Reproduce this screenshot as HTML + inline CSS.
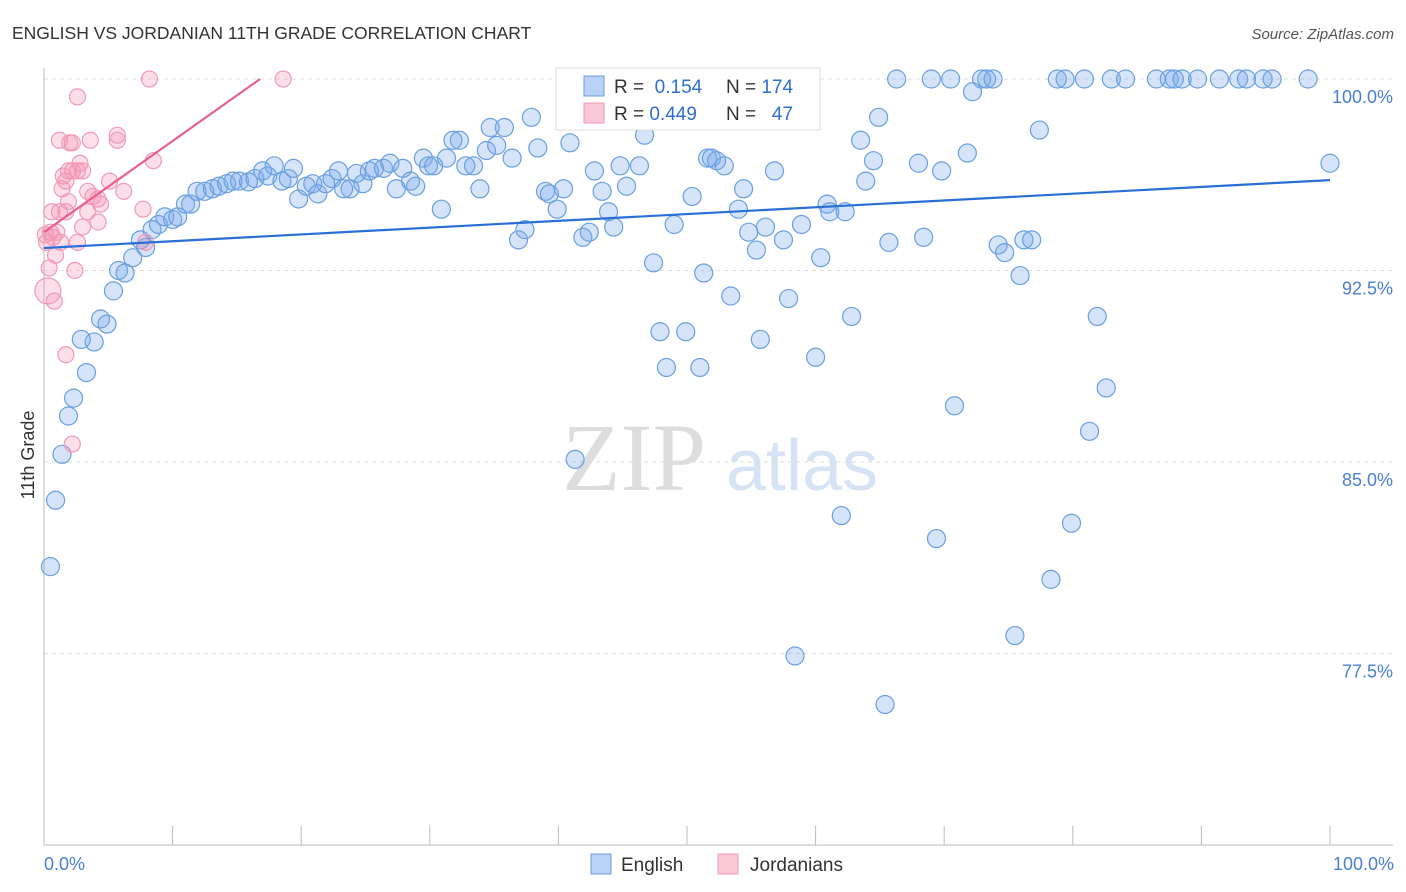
<!DOCTYPE html>
<html><head><meta charset="utf-8">
<style>
body{margin:0;background:#fff;font-family:"Liberation Sans",sans-serif;}
svg{display:block}
</style></head>
<body>
<svg id="chart" width="1406" height="892">
<text x="12" y="39" font-size="17.5" fill="#333">ENGLISH VS JORDANIAN 11TH GRADE CORRELATION CHART</text>
<text x="1394" y="39" font-size="15" fill="#555" font-style="italic" text-anchor="end">Source: ZipAtlas.com</text>
<g>
<text x="634" y="490" font-size="96" fill="#ddd" font-family="Liberation Serif" text-anchor="middle">ZIP</text>
<text x="802" y="490" font-size="72" fill="#d6e3f5" text-anchor="middle">atlas</text>
</g>
<g id="grid"></g>
<g id="axes"></g>
<g id="points"></g>
<g id="lines"></g>
<text transform="translate(34,455) rotate(-90)" font-size="18" fill="#333" text-anchor="middle">11th Grade</text>
<text x="44" y="870" font-size="18" fill="#4a7fd4">0.0%</text>
<text x="1394" y="870" font-size="18" fill="#4a7fd4" text-anchor="end">100.0%</text>
<g>
<rect x="556" y="68" width="264" height="62" fill="#fff" stroke="#ddd"/>
<rect x="584" y="76" width="20" height="20" fill="#b9d2f5" stroke="#6a9fe0"/>
<rect x="584" y="103" width="20" height="20" fill="#fbc8d7" stroke="#f09ab5"/>
<text x="614" y="93" font-size="19" fill="#333">R = <tspan fill="#2f6fd0">&#160;0.154</tspan><tspan x="726">N = </tspan><tspan fill="#2f6fd0">174</tspan></text>
<text x="614" y="120" font-size="19" fill="#333">R = <tspan fill="#2f6fd0">0.449</tspan><tspan x="726">N = </tspan><tspan fill="#2f6fd0">&#160;&#160;47</tspan></text>
</g>
<g>
<rect x="591" y="854" width="20" height="20" fill="#b9d2f5" stroke="#6a9fe0"/>
<text x="621" y="871" font-size="19" fill="#333">English</text>
<rect x="718" y="854" width="20" height="20" fill="#fbc8d7" stroke="#f09ab5"/>
<text x="750" y="871" font-size="19" fill="#333">Jordanians</text>
</g>
</svg>
<script>
const yTicks=[100,92.5,85,77.5];
const yTickLabels=["100.0%","92.5%","85.0%","77.5%"];
const xTicks=[0,10,20,30,40,50,60,70,80,90,100];
const blueX=[0.5,0.9,1.4,1.9,2.3,3.3,3.9,2.9,4.4,4.9,5.4,5.8,6.3,6.9,7.5,7.9,8.4,8.9,9.4,10.0,10.4,11.0,11.4,11.9,12.5,13.1,13.6,14.2,14.7,15.2,15.9,16.4,17.0,17.4,17.9,18.5,19.0,19.4,19.8,20.4,20.9,21.3,21.9,22.4,22.9,23.3,23.8,24.3,24.8,25.3,25.7,26.4,26.9,27.4,27.9,28.5,28.9,29.5,29.9,30.3,30.9,31.3,31.8,32.3,32.8,33.4,33.9,34.4,34.7,35.2,35.8,36.4,36.9,37.4,37.9,38.4,39.0,39.3,39.9,40.4,40.9,41.3,41.9,42.4,42.8,43.4,43.9,44.3,44.8,45.3,46.3,46.7,47.4,47.9,48.4,49.0,49.9,51.0,50.4,51.3,51.6,51.9,52.3,52.9,53.4,54.0,54.4,54.8,55.4,55.7,56.1,56.8,57.5,57.9,58.4,58.9,59.4,60.0,60.4,60.9,61.1,62.0,62.3,62.8,63.5,63.9,64.5,64.9,65.7,66.3,68.0,68.4,69.0,69.4,69.8,70.5,70.8,71.8,72.2,72.9,73.3,73.8,74.2,74.7,75.5,75.9,76.2,76.8,77.4,78.3,78.8,79.4,79.9,80.9,81.3,81.9,82.6,83.0,84.1,86.5,87.5,87.9,88.5,89.7,91.4,92.9,93.5,94.8,95.5,98.3,100,65.4];
const blueY=[80.9,83.5,85.3,86.8,87.5,88.5,89.7,89.8,90.6,90.4,91.7,92.5,92.4,93.0,93.7,93.4,94.1,94.3,94.6,94.5,94.6,95.1,95.1,95.6,95.6,95.7,95.8,95.9,96.0,96.0,95.97,96.1,96.4,96.2,96.6,96.0,96.1,96.5,95.3,95.8,95.9,95.5,95.9,96.1,96.4,95.7,95.7,96.3,95.9,96.4,96.5,96.5,96.7,95.7,96.5,96.0,95.8,96.9,96.6,96.6,94.9,96.9,97.6,97.6,96.6,96.6,95.7,97.2,98.1,97.4,98.1,96.9,93.7,94.1,98.5,97.3,95.6,95.5,94.9,95.7,97.5,85.1,93.8,94.0,96.4,95.6,94.8,94.2,96.6,95.8,96.6,97.8,92.8,90.1,88.7,94.3,90.1,88.7,95.4,92.4,96.9,96.9,96.8,96.6,91.5,94.9,95.7,94.0,93.3,89.8,94.2,96.4,93.7,91.4,77.4,94.3,99.5,89.1,93.0,95.1,94.8,82.9,94.8,90.7,97.6,96.0,96.8,98.5,93.6,100,96.7,93.8,100,82.0,96.4,100,87.2,97.1,99.5,100,100,100,93.5,93.2,78.2,92.3,93.7,93.7,98.0,80.4,100,100,82.6,100,86.2,90.7,87.9,100,100,100,100,100,100,100,100,100,100,100,100,100,96.7,75.5];
const pinkX=[0.3,0.5,0.7,0.2,0.6,0.9,1.4,1.7,1.9,2.2,2.6,2.8,2.2,2.6,3.0,3.4,3.6,5.7,5.7,3.8,4.2,4.4,1.2,1.2,1.7,2.4,1.7,2.2,2.6,3.0,3.4,4.2,5.1,6.2,7.7,7.9,8.5,8.2,18.6,0.8,1.3,1.9,1.5,2.0,0.4,0.1,1.0];
const pinkY=[91.7,94.0,93.8,93.6,94.8,93.1,95.7,96.0,96.4,96.4,96.4,96.7,97.5,99.3,96.4,95.6,97.6,97.8,97.6,95.4,95.3,95.1,97.6,94.8,94.8,92.5,89.2,85.7,93.6,94.2,94.8,94.4,96.0,95.6,94.9,93.6,96.8,100,100,91.3,93.6,95.2,96.2,97.5,92.6,93.9,94.0];
const blueLine=[[0,93.38],[100,96.04]];
const pinkLine=[[0,94.0],[16.8,100]];
const NS="http://www.w3.org/2000/svg";
const X=v=>44+v*12.86, Y=v=>79+(100-v)*25.53;
function mk(tag,attrs,parent){const e=document.createElementNS(NS,tag);for(const k in attrs)e.setAttribute(k,attrs[k]);parent.appendChild(e);return e;}
const grid=document.getElementById('grid'),axes=document.getElementById('axes'),pts=document.getElementById('points'),lines=document.getElementById('lines');
yTicks.forEach((t,i)=>{
 const l=mk('line',{x1:44,x2:1393,y1:Y(t),y2:Y(t),stroke:'#ddd','stroke-dasharray':'4,4'},grid);
 
 
 const tx=mk('text',{x:1393,y:Y(t)+24,'font-size':18,fill:'#4a7fd4','text-anchor':'end'},axes);
 tx.textContent=yTickLabels[i];
 
 
});
const ax=mk('line',{x1:44,x2:1393,y1:845,y2:845,stroke:'#bbb'},axes);


const ay=mk('line',{x1:44,x2:44,y1:68,y2:845,stroke:'#bbb'},axes);


xTicks.forEach(t=>{
 const l=mk('line',{x1:X(t),x2:X(t),y1:826,y2:845,stroke:'#bbb'},axes);
 
 
});
blueX.forEach((v,i)=>{
 const c=mk('circle',{cx:X(v),cy:Y(blueY[i]),r:9,fill:'rgba(120,165,235,0.3)',stroke:'#6a9fe0','stroke-width':1.2},pts);
 
 
});
pinkX.forEach((v,i)=>{
 const c=mk('circle',{cx:X(v),cy:Y(pinkY[i]),r:i==0?13:8,fill:'rgba(245,150,180,0.3)',stroke:'#f09ab5','stroke-width':1.2},pts);
 
 
});
const bl=mk('line',{x1:X(blueLine[0][0]),y1:Y(blueLine[0][1]),x2:X(blueLine[1][0]),y2:Y(blueLine[1][1]),stroke:'#2a6fd6','stroke-width':2.2},lines);


const pl=mk('line',{x1:X(pinkLine[0][0]),y1:Y(pinkLine[0][1]),x2:X(pinkLine[1][0]),y2:Y(pinkLine[1][1]),stroke:'#e8608d','stroke-width':2.2},lines);


</script>
</body></html>
